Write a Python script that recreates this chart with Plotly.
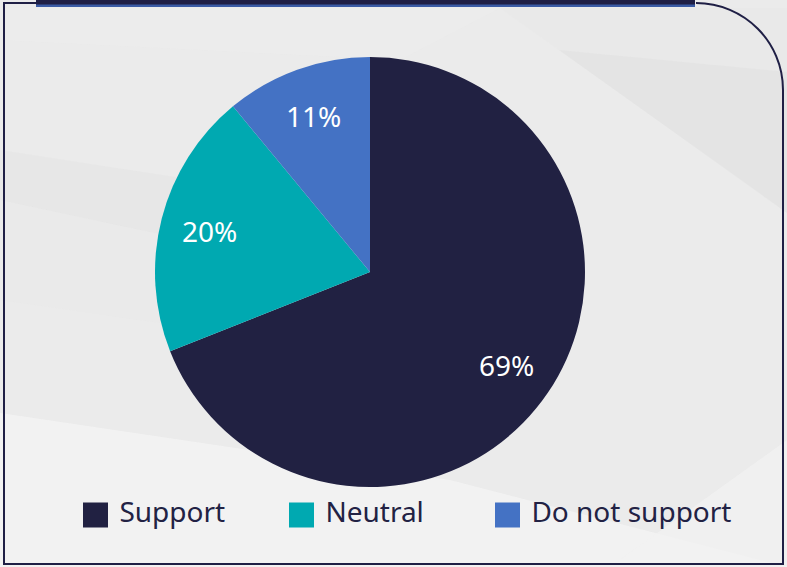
import math
import plotly.graph_objects as go

# ---- data ----
categories = ["Support", "Neutral", "Do not support"]
values = [69, 20, 11]
colors = ["#212142", "#00A9B1", "#4472C4"]

W, H = 787, 567
NAVY = "#1F1F45"
FONT = "Noto Sans"
CX, CY, R = 370, 272, 215          # pie centre / radius in pixels
LABEL_R = 0.77                      # label distance as fraction of radius

fig = go.Figure()

# pie (labels placed as annotations, Excel-like)
fig.add_trace(go.Pie(
    labels=categories, values=values,
    marker=dict(colors=colors, line=dict(width=0)),
    sort=False, direction="clockwise", rotation=0,
    textinfo="none",
    domain=dict(x=[(CX - R) / W, (CX + R) / W],
                y=[1 - (CY + R) / H, 1 - (CY - R) / H]),
    showlegend=False, hoverinfo="label+percent",
))

annotations = []
total = sum(values)
cum = 0
for v in values:
    mid = (cum + v / 2) / total * 2 * math.pi   # clockwise from 12 o'clock
    cum += v
    px = CX + LABEL_R * R * math.sin(mid)
    py = CY - LABEL_R * R * math.cos(mid)
    annotations.append(dict(
        x=px / W, y=1 - py / H, xref="paper", yref="paper",
        text=f"{round(v / total * 100)}%", showarrow=False,
        font=dict(family=FONT, size=28, color="white"),
        xanchor="center", yanchor="middle"))

# legend drawn as square markers on a hidden axis (one per category)
for i, (cat, col) in enumerate(zip(categories, colors)):
    fig.add_trace(go.Scatter(
        x=[i], y=[0], mode="markers+text", text=["\u00a0" + cat],
        textposition="middle right",
        textfont=dict(family=FONT, size=28, color="#222244"),
        marker=dict(symbol="square", size=25, color=col),
        xaxis="x2", yaxis="y2", showlegend=False, hoverinfo="skip",
    ))

# background streaks (pixel space)
streaks = [
    ("M500,8 L787,8 L787,72 L559,50 Z", "#E8E8E8", 0.7),
    ("M559,50 L787,72 L787,213 Z", "#E2E2E2", 0.8),
    ("M0,8 L500,8 L400,60 L0,40 Z", "#EDEDED", 0.5),
    ("M0,150 L420,215 L420,290 L0,200 Z", "#E4E4E4", 0.6),
    ("M0,200 L420,290 L420,360 L0,300 Z", "#E9E9E9", 0.5),
    ("M0,413 L450,480 L787,567 L0,567 Z", "#F3F3F3", 0.9),
    ("M787,440 L787,567 L610,567 Z", "#F1F1F1", 0.8),
]
shapes = []
for p, c, o in streaks:
    shapes.append(dict(type="path", path=p, xref="x", yref="y",
                       fillcolor=c, opacity=o, line=dict(width=0), layer="below"))

# frame with rounded top-right corner
k = 0.5523 * 87
frame = (f"M36,3 L4,3 L4,564 L783,564 L783,90 "
         f"C783,{90 - k:.1f} {696 + k:.1f},3 696,3")
shapes.append(dict(type="path", path=frame, xref="x", yref="y",
                   line=dict(color=NAVY, width=2), layer="above"))
# top bar
shapes.append(dict(type="rect", x0=36, x1=695, y0=4, y1=7, xref="x", yref="y",
                   fillcolor="#3B5BA5", line=dict(width=0), layer="above"))
shapes.append(dict(type="rect", x0=36, x1=695, y0=0, y1=4.5, xref="x", yref="y",
                   fillcolor="#1F1F45", line=dict(width=0), layer="above"))

fig.update_layout(
    width=W, height=H,
    margin=dict(l=0, r=0, t=0, b=0),
    paper_bgcolor="#EBEBEB", plot_bgcolor="rgba(0,0,0,0)",
    shapes=shapes, annotations=annotations,
    xaxis=dict(range=[0, W], domain=[0, 1], visible=False, fixedrange=True),
    yaxis=dict(range=[H, 0], domain=[0, 1], visible=False, fixedrange=True),
    xaxis2=dict(range=[-95.5 / 206, (W - 95.5) / 206], domain=[0, 1],
                anchor="y2", visible=False, fixedrange=True),
    yaxis2=dict(range=[-1, 1], domain=[0, 2 * (H - 515) / H],
                anchor="x2", visible=False, fixedrange=True),
    showlegend=False,
)

fig.write_html("out.html", config={"displayModeBar": False},
               post_script="document.body.style.margin='0';document.body.style.overflow='hidden';")
